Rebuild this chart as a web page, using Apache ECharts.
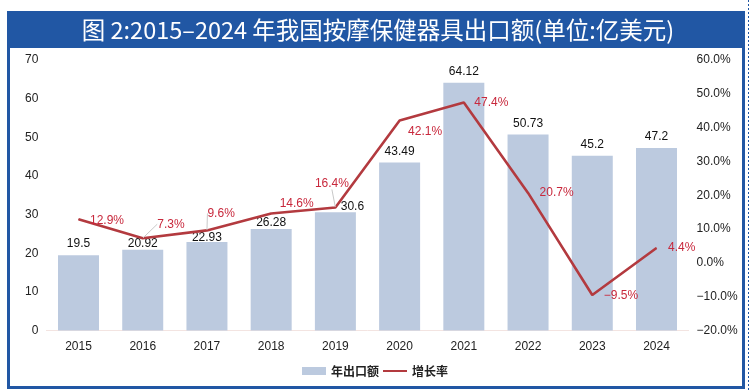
<!DOCTYPE html>
<html>
<head>
<meta charset="utf-8">
<script src="https://cdn.jsdelivr.net/npm/echarts@6/dist/echarts.min.js"></script>
<style>html,body{margin:0;padding:0;background:#fff}#c{width:750px;height:392px}</style>
</head>
<body>
<div id="c"></div>
<script>
var years = ['2015','2016','2017','2018','2019','2020','2021','2022','2023','2024'];
var exportValues = [19.5, 20.92, 22.93, 26.28, 30.6, 43.49, 64.12, 50.73, 45.2, 47.2];
var growthRates = [12.9, 7.3, 9.6, 14.6, 16.4, 42.1, 47.4, 20.7, -9.5, 4.4];
var leftTicks = [0, 10, 20, 30, 40, 50, 60, 70];
var rightTicks = [-20, -10, 0, 10, 20, 30, 40, 50, 60];

// label placement tweaks (style only)
var barLabelShift = [[0,0],[0,5],[0,7],[0,5],[17,5],[0,0],[0,0],[0,0],[0,0],[0,0]];
var lineLabelShift = [[1,1],[4,-14],[-10,-17],[-2,-10],[-31,-24],[-2,11],[0,0],[1,0],[1,1],[1,0]];
var lineLabelGuide = [false,true,true,false,true,false,false,false,false,false];

var FONT = '"Liberation Sans", Arial, "Noto Sans CJK SC", sans-serif';
var BLUE = '#2157a4';

function pct(v) {
  var s = Math.abs(v).toFixed(1) + '%';
  return v < 0 ? '\u2212' + s : s;
}

var chart = echarts.init(document.getElementById('c'), null, {renderer:'canvas'});
chart.setOption({
  animation: false,
  textStyle: {fontFamily: FONT},
  graphic: [
    {type:'rect', shape:{x:8.5, y:12.5, width:735, height:375}, style:{fill:'none', stroke:BLUE, lineWidth:3}, z:10},
    {type:'rect', shape:{x:7, y:11, width:738, height:37}, style:{fill:BLUE}, z:10},
    {type:'line', shape:{x1:748.5, y1:0, x2:748.5, y2:392}, style:{stroke:BLUE, lineWidth:1, lineDash:[2,2]}, z:10},
    {type:'text', x:378, y:30, z:11, style:{text:'图 2:2015–2024 年我国按摩保健器具出口额(单位:亿美元)', fill:'#fff', font:'400 23.5px "Noto Sans CJK SC", sans-serif', align:'center', verticalAlign:'middle'}}
  ],
  legend: {
    bottom: 10, left: 'center', itemWidth: 24, itemHeight: 8, itemGap: 4,
    icon: 'rect',
    textStyle: {fontSize: 12, color: '#222', fontFamily: '"Noto Sans CJK SC", sans-serif', fontWeight: 'bold'},
    data: [{name:'年出口额', icon:'rect'}, {name:'增长率', icon:'path://M0,4 L24,4 L24,6 L0,6 Z'}]
  },
  grid: {left: 46.4, right: 61.4, top: 60, bottom: 61.5, containLabel: false},
  xAxis: {
    type: 'category', data: years,
    axisLine: {lineStyle: {color: '#f3e4e1', width: 1}},
    axisTick: {show: false},
    axisLabel: {color: '#222', fontSize: 12, margin: 10}
  },
  yAxis: [
    {type:'value', min:leftTicks[0], max:leftTicks[leftTicks.length-1], interval:10,
     splitLine:{show:false}, axisLine:{show:false}, axisTick:{show:false},
     axisLabel:{color:'#222', fontSize:12, margin:8}},
    {type:'value', min:rightTicks[0], max:rightTicks[rightTicks.length-1], interval:10,
     splitLine:{show:false}, axisLine:{show:false}, axisTick:{show:false},
     axisLabel:{color:'#222', fontSize:12, margin:8, formatter:function(v){return pct(v);}}}
  ],
  series: [
    {
      name:'年出口额', type:'bar', yAxisIndex:0, barWidth:41,
      itemStyle:{color:'#bccadf'},
      data: exportValues.map(function(v,i){
        return {value:v, label:{offset:barLabelShift[i]}};
      }),
      label:{show:true, position:'top', distance:5, color:'#111', fontSize:12},
      z: 2
    },
    {
      name:'增长率', type:'line', yAxisIndex:1, symbol:'circle', showSymbol:true, symbolSize:1,
      lineStyle:{color:'#b33a3f', width:2.6},
      itemStyle:{color:'#b33a3f'},
      data: growthRates.map(function(v,i){
        return {value:v, labelLine:{show:lineLabelGuide[i]}};
      }),
      label:{show:true, position:'right', distance:10, color:'#c8283c', fontSize:12,
        formatter:function(p){return pct(p.value);}},
      labelLine:{show:false, lineStyle:{color:'#c8c8c8', width:1}},
      labelLayout:function(p){
        var s = lineLabelShift[p.dataIndex];
        return {dx:s[0], dy:s[1]};
      },
      z: 3
    }
  ]
});
</script>
</body>
</html>
